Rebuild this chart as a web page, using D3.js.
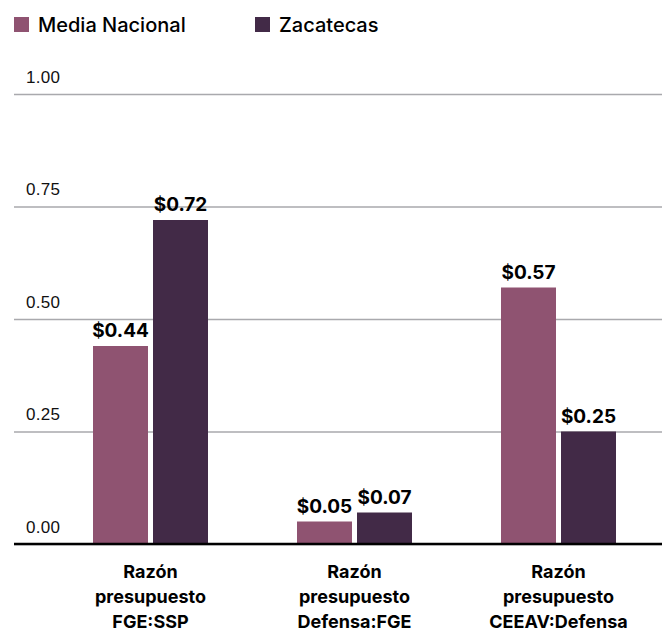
<!DOCTYPE html>
<html>
<head>
<meta charset="utf-8">
<script src="https://cdn.jsdelivr.net/npm/d3@7"></script>
<style>
  body { margin: 0; background: #fff; }
  svg { display: block; font-family: Inter, "Open Sans", sans-serif; }
</style>
</head>
<body>
<div class="visHolder"></div>
<script>
const w = 662, h = 631;

const categories = [
  ['Razón', 'presupuesto', 'FGE:SSP'],
  ['Razón', 'presupuesto', 'Defensa:FGE'],
  ['Razón', 'presupuesto', 'CEEAV:Defensa']
];
const series = ['Media Nacional', 'Zacatecas'];
const mediaNacional = [0.44, 0.05, 0.57];
const zacatecas = [0.72, 0.07, 0.25];
const yTicks = [0, 0.25, 0.5, 0.75, 1];
const colors = ['#8f5371', '#422a47'];

const values = [mediaNacional, zacatecas];
const catKeys = categories.map(c => c.join(' '));

const svg = d3.select('.visHolder')
  .append('svg')
  .attr('width', w)
  .attr('height', h);

const yScale = d3.scaleLinear()
  .domain([0, 1])
  .range([544, 94]);

const x0 = d3.scaleBand()
  .domain(catKeys)
  .range([48.5, 660.5])
  .padding(0);

const x1 = d3.scaleBand()
  .domain(series)
  .range([(x0.bandwidth() - 115) / 2, (x0.bandwidth() + 115) / 2])
  .paddingInner(1 / 12);

const color = d3.scaleOrdinal().domain(series).range(colors);

// gridlines with labels sitting above them
const yAxis = d3.axisLeft(yScale)
  .tickValues(yTicks)
  .tickSize(-(w - 14))
  .tickFormat(d3.format('.2f'));

const gy = svg.append('g')
  .attr('transform', 'translate(14, 0)')
  .call(yAxis);
gy.select('.domain').remove();
gy.selectAll('.tick line')
  .attr('stroke', '#a9a9ad')
  .attr('stroke-width', 1.5);
gy.selectAll('.tick text')
  .attr('x', 12)
  .attr('y', -12)
  .attr('dy', 0)
  .attr('text-anchor', 'start')
  .attr('font-size', 17)
  .attr('letter-spacing', 0.3)
  .attr('fill', '#111');

// bars
const groups = svg.append('g')
  .selectAll('g')
  .data(catKeys)
  .join('g')
  .attr('transform', d => `translate(${x0(d)}, 0)`);

groups.selectAll('rect')
  .data((d, i) => series.map((s, j) => ({s, v: values[j][i]})))
  .join('rect')
  .attr('x', d => x1(d.s))
  .attr('width', x1.bandwidth())
  .attr('y', d => yScale(d.v))
  .attr('height', d => yScale(0) - yScale(d.v))
  .attr('fill', d => color(d.s));

groups.selectAll('text.val')
  .data((d, i) => series.map((s, j) => ({s, v: values[j][i]})))
  .join('text')
  .attr('class', 'val')
  .attr('x', d => x1(d.s) + x1.bandwidth() / 2)
  .attr('y', d => yScale(d.v) - 9)
  .attr('text-anchor', 'middle')
  .attr('font-size', 19)
  .attr('font-weight', 700)
  .attr('fill', '#000')
  .text(d => '$' + d3.format('.2f')(d.v));

// baseline
const xAxis = d3.axisBottom(x0).tickSize(0).tickFormat('');
const gx = svg.append('g')
  .attr('transform', `translate(0, ${yScale(0)})`)
  .call(xAxis);
gx.select('.domain').remove();
gx.append('line')
  .attr('x1', 14)
  .attr('x2', w)
  .attr('stroke', '#000')
  .attr('stroke-width', 2.5);

// category labels
svg.append('g')
  .selectAll('text')
  .data(categories)
  .join('text')
  .attr('x', (d, i) => x0(catKeys[i]) + x0.bandwidth() / 2)
  .attr('y', 578)
  .attr('text-anchor', 'middle')
  .attr('font-size', 18)
  .attr('font-weight', 700)
  .attr('fill', '#000')
  .selectAll('tspan')
  .data(d => d)
  .join('tspan')
  .attr('x', function() { return this.parentNode.getAttribute('x'); })
  .attr('dy', (d, i) => i === 0 ? 0 : 25)
  .text(d => d);

// legend
const legendX = [14, 255];
const legend = svg.append('g')
  .selectAll('g')
  .data(series)
  .join('g')
  .attr('transform', (d, i) => `translate(${legendX[i]}, 17)`);
legend.append('rect')
  .attr('width', 15)
  .attr('height', 15)
  .attr('fill', d => color(d));
legend.append('text')
  .attr('x', 24)
  .attr('y', 15)
  .attr('font-size', 20)
  .attr('font-weight', 500)
  .attr('fill', '#000')
  .text(d => d);
</script>
</body>
</html>
